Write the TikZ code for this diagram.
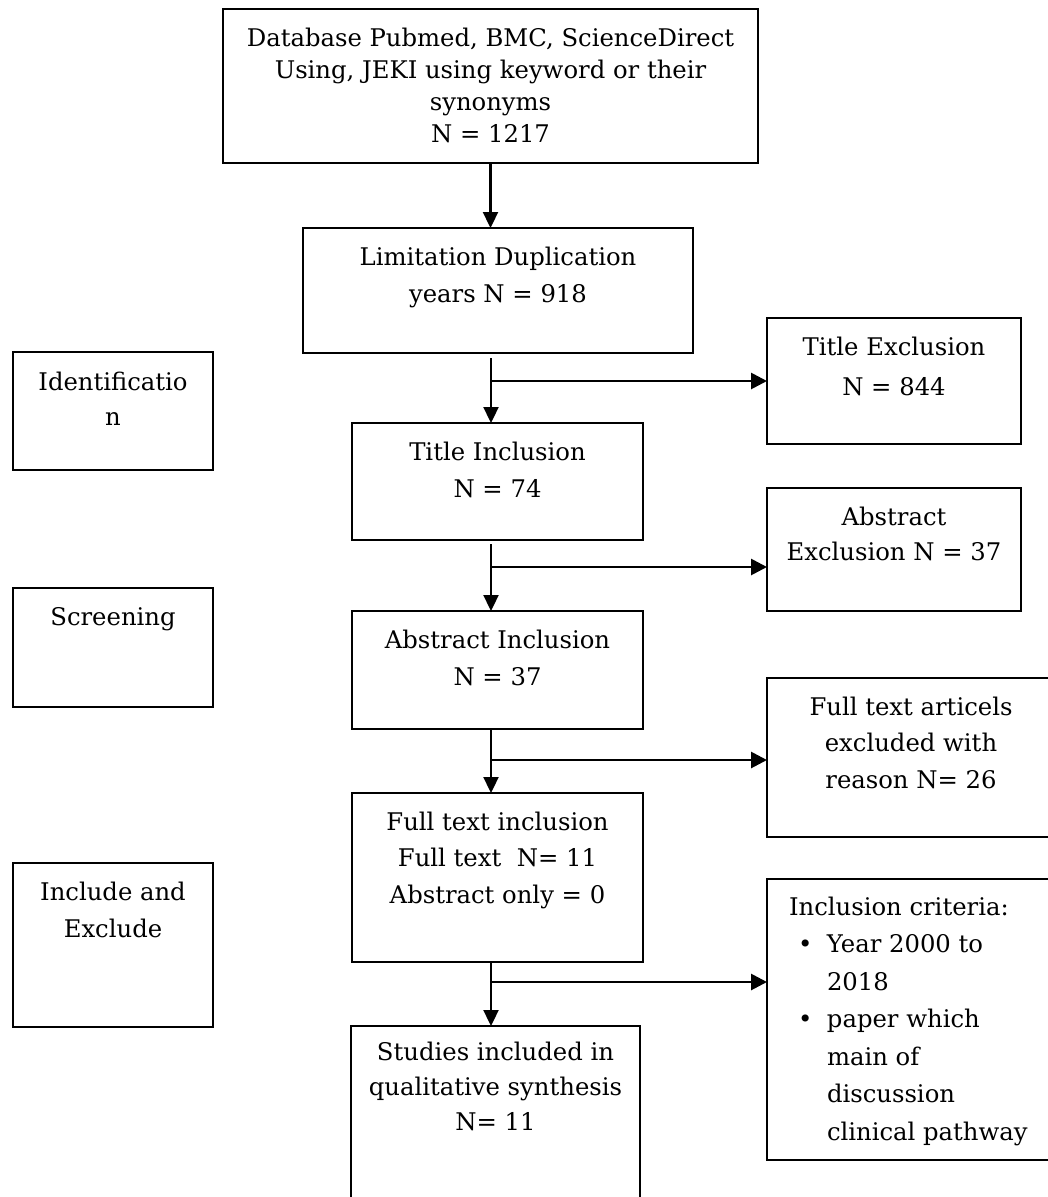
\documentclass[tikz,border=0pt]{standalone}
\usepackage{fontspec}
\setmainfont{DejaVu Serif}
\usetikzlibrary{arrows.meta}
\newcommand\flowbox[4]{\parbox[b][#2pt][t]{#1pt}{\centering\fontsize{24.3}{#3}\selectfont\rule{0pt}{37pt}#4}}
\newcommand\listbox[3]{\parbox[b][#2pt][t]{#1pt}{\raggedright\leftskip=22pt\fontsize{24.3}{37.5}\selectfont\rule{0pt}{36pt}#3\par}}
\begin{document}
\begin{tikzpicture}[x=1pt,y=-1pt,
  box/.style={draw, line width=2.8pt, inner sep=0pt, outer sep=0pt, anchor=north west},
  arr/.style={line width=2.3pt, -{Triangle[length=16pt,width=15pt]}},
  arrh/.style={line width=2.8pt, -{Triangle[length=16pt,width=16pt]}}]
\clip (0,0) rectangle (1048,1197);
\fill[white] (0,0) rectangle (1048,1197);
% main column
\node[box] (b1) at (223,9) {\flowbox{535}{154}{32}{Database Pubmed, BMC, ScienceDirect\\Using, JEKI using keyword or their\\synonyms\\N = 1217}};
\node[box] (b2) at (303,228) {\flowbox{390}{125}{37}{Limitation Duplication\\years N = 918}};
\node[box] (ti) at (352,423) {\flowbox{291}{117}{37}{Title Inclusion\\N = 74}};
\node[box] (ai) at (352,611) {\flowbox{291}{118}{37}{Abstract Inclusion\\N = 37}};
\node[box] (fi) at (352,793) {\flowbox{291}{169}{36.5}{Full text inclusion\\Full text\ \ N= 11\\Abstract only = 0}};
\node[box] (st) at (351,1026) {\parbox[b][204pt][t]{289pt}{\centering\fontsize{24.3}{35}\selectfont\rule{0pt}{34pt}Studies included in\\qualitative synthesis\\N= 11}};
% right column
\node[box] (te) at (767,318) {\flowbox{254}{126}{40}{Title Exclusion\\N = 844}};
\node[box] (ae) at (767,488) {\flowbox{254}{123}{35}{Abstract\\Exclusion N = 37}};
\node[box] (fe) at (767,678) {\flowbox{288}{159}{36.5}{Full text articels\\excluded with\\reason N= 26}};
\node[box] (ic) at (767,879) {\listbox{288}{281}{Inclusion criteria:\\
\hspace*{9pt}\makebox[29pt][l]{•}Year 2000 to\\
\hspace*{38pt}2018\\
\hspace*{9pt}\makebox[29pt][l]{•}paper which\\
\hspace*{38pt}main of\\
\hspace*{38pt}discussion\\
\hspace*{38pt}clinical pathway}};
% left column
\node[box] (id) at (13,352) {\parbox[b][118pt][t]{200pt}{\centering\fontsize{24.3}{35}\selectfont\rule{0pt}{38pt}Identificatio\\n}};
\node[box] (sc) at (13,588) {\flowbox{200}{119}{37}{Screening}};
\node[box] (ie) at (13,863) {\flowbox{200}{164}{37}{Include and\\Exclude}};
% connectors
\coordinate (s1) at (491,358); \coordinate (j1) at (491,381);
\coordinate (s2) at (491,544); \coordinate (j2) at (491,567);
\coordinate (s3) at (491,730); \coordinate (j3) at (491,760);
\coordinate (s4) at (491,963); \coordinate (j4) at (491,982);
\draw[arr] (b1.south) -- (b1.south |- b2.north);
\draw[arr] (s1) -- (s1 |- ti.north);
\draw[arrh] (j1) -- (j1 -| te.west);
\draw[arr] (s2) -- (s2 |- ai.north);
\draw[arrh] (j2) -- (j2 -| ae.west);
\draw[arr] (s3) -- (s3 |- fi.north);
\draw[arrh] (j3) -- (j3 -| fe.west);
\draw[arr] (s4) -- (s4 |- st.north);
\draw[arrh] (j4) -- (j4 -| ic.west);
\end{tikzpicture}
\end{document}
